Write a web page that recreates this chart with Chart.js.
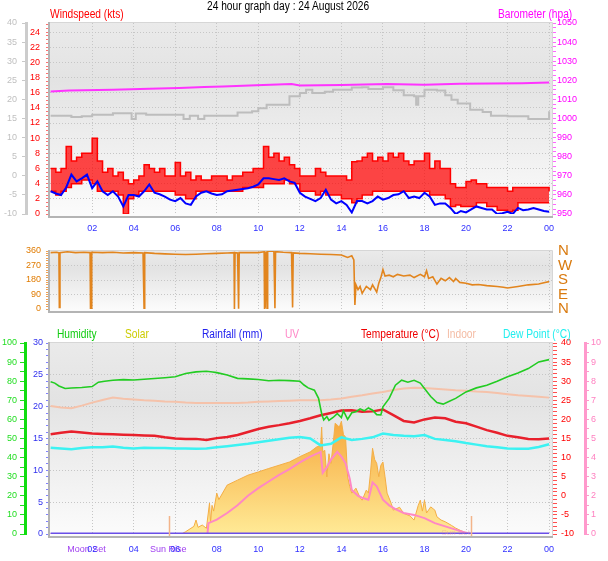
<!DOCTYPE html>
<html>
<head>
<meta charset="utf-8" />
<title>24 hour graph day : 24 August 2026</title>
<script src="https://cdn.jsdelivr.net/npm/chart.js@4.4.0/dist/chart.umd.min.js"></script>
<style>
  body { margin: 0; background: #fff; }
  #wrap { position: relative; width: 608px; height: 561px; overflow: hidden; }
  canvas { position: absolute; left: 0; }
  .lbl { position: absolute; font-size: 12px; line-height: 12px; white-space: nowrap;
         font-family: "Liberation Sans", Arial, sans-serif;
         transform: scaleX(0.85); transform-origin: 0 0; }
</style>
</head>
<body>
<div id="wrap">
  <canvas id="top" width="608" height="236" style="top:0"></canvas>
  <canvas id="mid" width="608" height="88" style="top:236px"></canvas>
  <canvas id="bot" width="608" height="237" style="top:324px"></canvas>

  <!--titles-->
  <div class="lbl" style="left:207px;top:0;color:#000">24 hour graph day : 24 August 2026</div>
  <div class="lbl" style="left:50px;top:8px;color:#ff0000">Windspeed (kts)</div>
  <div class="lbl" style="left:498px;top:8px;color:#ff00ff">Barometer (hpa)</div>

  <!--bottom panel legend-->
  <div class="lbl" style="left:57px;top:328px;color:#11cc11">Humidity</div>
  <div class="lbl" style="left:125px;top:328px;color:#cccc00">Solar</div>
  <div class="lbl" style="left:202px;top:328px;color:#2222ee">Rainfall (mm)</div>
  <div class="lbl" style="left:285px;top:328px;color:#ff88c8">UV</div>
  <div class="lbl" style="left:361px;top:328px;color:#ee0000">Temperature (°C)</div>
  <div class="lbl" style="left:447px;top:328px;color:#f4bca4">Indoor</div>
  <div class="lbl" style="left:503px;top:328px;color:#22eeee">Dew Point (°C)</div>
</div>

<script>
// ---- data (hours of the day) ----
const hourTickLabels = ["02", "04", "06", "08", "10", "12", "14", "16", "18", "20", "22", "00"];
const compassLabels = ["N", "E", "S", "W", "N"];
const eventTimes = [1.73, 5.66];
const eventLabels = ["Moon Set", "Sun Rise"];
const sunTimes = [5.72, 20.24];

// wind is sampled every 15 minutes
const windTimes = Array.from({ length: 97 }, (_, i) => i / 4);
const gustHi = [6, 5.5, 6, 8.9, 7, 7.5, 8, 8, 10, 7, 5.5, 6, 5, 5.5, 4.5, 4,
  4.5, 5, 6.5, 6, 5.5, 6, 5, 5, 6.8, 5, 5.5, 4.5, 5, 4.5, 4.5, 5,
  5, 5, 4.5, 5, 5, 5.5, 5.5, 6, 6, 8.9, 7.5, 8, 7, 7.5, 6.5, 6,
  5, 5, 5, 6, 5.5, 5, 5, 5, 5, 4.5, 6.9, 7, 7.5, 8, 7, 7.5,
  7, 8, 7.5, 8, 7, 6.5, 7, 7, 8, 6, 7, 6, 6, 4, 3.5, 3.5,
  4.3, 4.5, 4, 4, 3.5, 3.5, 3.5, 3.5, 3, 3.5, 3.5, 3.5, 3.5, 3.5, 3.5, 3.5, 3];
const gustLo = [3, 2.5, 3, 3.5, 4, 4, 4.5, 4.5, 4, 3, 3, 3, 3, 2.5, 0, 2,
  2.5, 3, 3, 3, 3, 3, 3, 3, 2.5, 2.5, 2, 2, 3, 3, 3, 3,
  3, 3, 3, 3, 3, 3.5, 3.5, 3.5, 3.5, 4, 4, 4, 4, 4.5, 4, 4,
  3, 3, 3, 2.5, 3, 2.5, 2.5, 2.5, 2, 2, 1.5, 2, 2.5, 2.5, 3, 3,
  3, 3, 3, 3, 3, 3, 3, 3, 3, 2.5, 2.5, 2.5, 2, 1, 1.2, 1,
  1, 1, 1.5, 1.5, 1, 1, 0.5, 0.5, 0.3, 0.5, 1.5, 1.5, 1.5, 1.5, 1.5, 1.5, 1.5];
const windAvg = [3.0, 2.7, 2.5, 3.5, 5.2, 4.3, 4.7, 5.2, 3.4, 4.3, 3.0, 2.5, 3.0, 2.3, 1.0, 2.5,
  2.5, 2.3, 3.0, 3.9, 2.8, 2.6, 2.3, 1.9, 1.7, 2.1, 1.4, 1.2, 2.3, 2.8, 3.0, 2.7,
  2.5, 2.6, 3.0, 3.1, 3.2, 3.3, 3.4, 3.6, 3.9, 4.7, 4.7, 4.6, 4.5, 4.7, 4.3, 4.1,
  2.8, 2.3, 2.0, 1.7, 2.1, 3.2, 1.9, 1.4, 1.7, 1.2, 0.2, 1.7, 1.7, 1.4, 1.7, 2.3,
  1.9, 2.1, 2.5, 2.6, 3.0, 2.1, 2.3, 2.1, 2.8, 2.3, 1.2, 1.4, 1.4, 0.8, 0.0, 0.4,
  0.2, 0.6, 1.0, 0.8, 0.6, 0.6, 0.0, 0.1, 0.3, 0.0, 0.8, 0.5, 0.6, 0.8, 0.6, 0.4, 0.3];

const baroTimes = [0, 0.9, 3.0, 4.75, 6.2, 7.4, 8.3, 9.9, 11.6, 12.0, 14.0, 16.2, 18.0, 19.7, 22.7, 24];
const baroVals = [1014.2, 1014.7, 1015.1, 1015.6, 1016.0, 1016.5, 1016.8, 1017.4, 1018.0, 1017.3,
  1017.5, 1018.0, 1017.7, 1018.2, 1018.5, 1018.8];

const greyTimes = [0, 1.0, 1.5, 2.0, 3.0, 3.9, 4.1, 4.6, 6.4, 6.7, 7.1, 7.4, 9.0, 9.7, 10.0, 10.4,
  11.5, 12.0, 12.3, 12.6, 13.2, 13.6, 14.5, 15.0, 15.3, 16.0, 16.5, 17.0, 17.5, 17.6, 17.7, 18.0,
  18.6, 19.0, 19.3, 19.6, 20.2, 20.8, 21.2, 22.0, 23.0, 23.7, 24.0];
const greyVals = [15.7, 15.4, 15.6, 16.0, 16.4, 14.9, 16.3, 16.0, 14.9, 15.7, 14.9, 15.7, 16.6, 16.9, 17.7, 18.6,
  20.8, 21.7, 22.5, 21.7, 22.0, 22.5, 23.1, 23.2, 22.7, 23.2, 22.4, 21.1, 20.8, 18.6, 20.8, 22.5,
  22.3, 21.1, 19.9, 18.9, 17.3, 16.7, 15.7, 15.6, 14.9, 14.9, 16.9];

const dirTimes = [0, 0.3, 0.4, 0.42, 0.45, 0.8, 1.2, 1.6, 1.9, 1.92, 1.95, 1.98, 2.5, 3.0, 3.5, 4.0,
  4.45, 4.5, 4.53, 5.0, 5.5, 6.0, 6.5, 7.0, 7.5, 8.0, 8.5, 8.83, 8.85, 8.88, 9.0, 9.05,
  9.08, 9.5, 10.0, 10.28, 10.3, 10.33, 10.38, 10.42, 10.45, 10.75, 10.8, 10.83, 11.2, 11.6, 11.65, 11.68,
  12.0, 12.5, 13.0, 13.5, 14.0, 14.3, 14.5, 14.6, 14.65, 14.7, 14.8, 14.9, 15.0, 15.2, 15.4, 15.5,
  15.7, 15.8, 15.9, 16.0, 16.1, 16.3, 16.5, 16.7, 17.0, 17.3, 17.5, 17.8, 18.0, 18.1, 18.2, 18.4,
  18.6, 18.8, 19.0, 19.2, 19.4, 19.5, 19.7, 20.0, 20.3, 20.6, 21.0, 21.5, 21.8, 22.0, 22.5, 23.0,
  23.5, 23.8, 24.0];
const dirVals = [350, 352, 348, 10, 350, 355, 350, 352, 350, 0, 0, 352, 350, 352, 348, 350,
  348, 0, 350, 345, 342, 340, 338, 340, 343, 345, 348, 350, 0, 350, 348, 2,
  350, 350, 350, 355, 0, 10, 358, 0, 360, 358, 5, 356, 352, 350, 10, 348,
  345, 343, 340, 338, 335, 320, 330, 305, 25, 150, 120, 140, 97, 140, 120, 150,
  105, 160, 195, 245, 205, 210, 200, 215, 205, 210, 195, 215, 200, 237, 190, 200,
  155, 190, 175, 195, 170, 190, 165, 160, 150, 152, 145, 140, 135, 130, 140, 150,
  155, 165, 170];

// bottom panel, half-hourly readings
const halfHours = Array.from({ length: 49 }, (_, i) => i / 2);
const tempVals = [16.1, 16.5, 16.8, 16.6, 16.3, 16.2, 16.1, 16.0, 15.9, 15.8, 15.7, 15.3, 15.0, 14.9, 14.9, 14.6,
  15.1, 15.4, 15.9, 16.7, 17.5, 18.1, 18.5, 19.0, 19.6, 20.3, 21.1, 21.7, 22.3, 22.4, 22.0, 22.1,
  22.6, 21.1, 19.6, 19.2, 20.0, 20.5, 20.3, 19.4, 19.0, 18.1, 17.2, 16.5, 15.7, 15.3, 14.9, 14.8, 15.0];
const dewVals = [12.6, 12.4, 12.2, 12.5, 12.7, 12.7, 12.9, 12.6, 12.4, 12.6, 12.5, 12.5, 12.4, 12.4, 12.3, 12.4,
  12.7, 13.0, 13.3, 13.6, 14.0, 14.4, 14.8, 15.2, 15.4, 15.0, 13.2, 13.6, 15.3, 14.6, 14.9, 15.3,
  16.3, 15.9, 15.7, 15.6, 15.9, 14.9, 14.6, 14.3, 13.8, 13.4, 13.0, 12.7, 12.4, 12.3, 12.3, 12.8, 13.5];
const indoorVals = [23.5, 23.1, 22.9, 23.6, 24.4, 25.1, 25.7, 25.4, 25.2, 25.0, 24.9, 24.7, 24.6, 24.4, 24.3, 24.3,
  24.3, 24.3, 24.3, 24.4, 24.6, 24.7, 24.8, 24.9, 25.0, 25.0, 25.0, 25.2, 25.5, 25.9, 26.3, 26.8,
  27.2, 27.7, 28.1, 28.3, 28.2, 28.0, 27.8, 27.6, 27.5, 27.3, 27.2, 26.9, 26.6, 26.3, 26.1, 25.9, 25.7];

const humTimes = [0, 0.2, 0.4, 0.7, 1.0, 1.5, 2.0, 2.3, 2.6, 3.0, 3.5, 4.0, 4.5, 5.0, 5.5, 6.0,
  6.5, 7.0, 7.5, 7.8, 8.0, 8.5, 9.0, 9.5, 10.0, 10.5, 11.0, 11.5, 12.0, 12.2, 12.4, 12.7,
  12.9, 13.05, 13.15, 13.3, 13.4, 13.6, 13.8, 14.0, 14.1, 14.3, 14.5, 14.7, 14.9, 15.1, 15.3, 15.5,
  15.7, 15.9, 16.0, 16.3, 16.6, 16.9, 17.2, 17.5, 17.8, 18.0, 18.3, 18.6, 18.9, 19.2, 19.5, 20.0,
  20.5, 21.0, 21.5, 22.0, 22.5, 23.0, 23.5, 24.0];
const humVals = [79.7, 79, 77.5, 76.2, 76.4, 76.7, 77.2, 79.5, 80, 80.5, 80.8, 80.6, 81, 81.4, 81.8, 82.3,
  84, 84.9, 85.2, 84.8, 84.5, 83.2, 81.5, 81.2, 80.9, 80.2, 80.5, 80.3, 80.0, 78, 76.5, 75.3,
  71, 63, 59.7, 61.5, 59.5, 61, 63, 61, 64.5, 60, 63.5, 64, 65.5, 64.5, 66, 64.8,
  62.5, 62.3, 66.6, 71, 77.9, 80.5, 79.5, 80.5, 79, 76.2, 72, 68.8, 68, 69.5, 71, 74.4,
  76.5, 77.9, 80, 82.3, 84.3, 86.6, 90.1, 91.3];

const solarTimes = [0, 6.3, 6.5, 6.9, 7.0, 7.1, 7.3, 7.5, 7.65, 7.7, 7.77, 7.85, 8.0, 8.1, 8.5, 9.0,
  9.5, 10.0, 10.5, 11.0, 11.5, 12.0, 12.5, 12.8, 13.0, 13.05, 13.1, 13.2, 13.3, 13.4, 13.5, 13.6,
  13.7, 13.9, 14.0, 14.1, 14.2, 14.3, 14.4, 14.5, 14.7, 14.9, 15.0, 15.2, 15.3, 15.4, 15.5, 15.6,
  15.7, 15.8, 15.9, 16.0, 16.1, 16.2, 16.4, 16.5, 16.8, 17.0, 17.3, 17.5, 17.7, 17.8, 17.9, 18.0,
  18.1, 18.3, 18.5, 18.6, 18.8, 19.0, 19.3, 19.5, 19.8, 20.0, 20.2, 24];
const solarVals = [0, 0, 12, 40, 73, 35, 47, 30, 162, 60, 150, 120, 214, 180, 256, 282,
  308, 325, 343, 360, 377, 405, 430, 455, 464, 560, 430, 438, 299, 420, 370, 470,
  580, 560, 590, 520, 508, 299, 250, 214, 240, 190, 177, 230, 214, 320, 449, 390,
  370, 300, 360, 377, 300, 214, 160, 125, 140, 108, 95, 73, 150, 177, 120, 177,
  110, 142, 125, 90, 73, 64, 45, 31, 15, 5, 0, 0];

const uvTimes = [0, 7.55, 7.6, 8.0, 8.5, 9.0, 9.5, 10.0, 10.5, 11.0, 11.5, 12.0, 12.5, 13.0, 13.1, 13.3,
  13.5, 13.8, 14.0, 14.2, 14.4, 14.5, 14.8, 15.0, 15.3, 15.5, 15.7, 16.0, 16.3, 16.6, 17.0, 17.5,
  18.0, 18.5, 19.0, 19.5, 20.0, 20.3, 24];
const uvVals = [0, 0, 0.57, 0.75, 1.1, 1.5, 2.0, 2.4, 2.75, 3.1, 3.4, 3.75, 4.05, 4.3, 3.2, 3.5,
  3.9, 4.3, 4.05, 3.7, 2.9, 2.3, 2.0, 1.9, 1.8, 2.7, 2.5, 1.8, 1.5, 1.3, 1.1, 1.0,
  0.83, 0.57, 0.4, 0.23, 0.05, 0, 0];

const rainTimes = [0, 24];
const rainVals = [0, 0];

// ---- helpers ----
Chart.defaults.font.family = "'Liberation Sans', Arial, sans-serif";
Chart.defaults.font.size = 9;

function pairs(times, vals) {
  return times.map((t, i) => ({ x: t, y: vals[i] }));
}
// show a label only on multiples of n
function every(n) {
  return (v) => (Math.abs(v / n - Math.round(v / n)) < 1e-6 ? v : "");
}
function hourLabel(v) {
  const k = eventTimes.indexOf(v);
  if (k >= 0) return eventLabels[k];
  if (v <= 0) return "";
  return hourTickLabels[Math.round(v / 2) - 1];
}
const gridCol = "#c6c6c6";
const clear = "rgba(0,0,0,0)";

function hourAxis(height, pad, showLabels) {
  return {
    type: "linear", min: -0.03, max: 24.14, position: "bottom",
    afterFit: (s) => { s.height = height; },
    grid: { drawTicks: false, color: (c) => (c.tick && c.tick.value > 0 && eventTimes.indexOf(c.tick.value) < 0 ? gridCol : clear) },
    border: { display: false, dash: [1, 2] },
    ticks: { display: showLabels, stepSize: 2, includeBounds: false, autoSkip: false, maxRotation: 0, minRotation: 0,
      padding: pad, color: "#3030ff", callback: hourLabel }
  };
}
function valueAxis(o) {
  return {
    position: o.pos, weight: o.weight || 0, min: o.min, max: o.max,
    afterFit: (s) => { s.width = o.width; },
    grid: {
      drawOnChartArea: !!o.gridEvery,
      color: (c) => (o.gridEvery && c.tick && c.tick.value > o.min && c.tick.value < o.max &&
        every(o.gridEvery)(c.tick.value) !== "" ? gridCol : clear),
      tickLength: o.tickLen || 4, tickColor: o.tickColor
    },
    border: { display: !!o.border, color: o.border, width: 3, dash: [1, 2] },
    ticks: { stepSize: o.step, includeBounds: false, autoSkip: false, padding: o.pad, color: o.color,
      callback: every(o.label) }
  };
}

const panelBack = {
  id: "panelBack",
  beforeDraw(chart) {
    const { ctx, chartArea: a } = chart;
    const g = ctx.createLinearGradient(0, a.top, 0, a.bottom);
    g.addColorStop(0, "#eaeaea");
    g.addColorStop(0.3, "#e3e3e3");
    g.addColorStop(1, "#fbfbfb");
    ctx.save();
    ctx.fillStyle = g;
    ctx.fillRect(a.left, a.top - 1, a.right - a.left, a.bottom - a.top + 4);
    ctx.restore();
  },
  afterDraw(chart) {
    const { ctx, chartArea: a } = chart;
    ctx.save();
    ctx.strokeStyle = "#d6d6d6";
    ctx.lineWidth = 1;
    ctx.beginPath();
    ctx.moveTo(a.left, a.top - 0.5);
    ctx.lineTo(a.right + 0.5, a.top - 0.5);
    ctx.lineTo(a.right + 0.5, a.bottom + 3);
    ctx.stroke();
    ctx.strokeStyle = "#b4b4b4";
    ctx.lineWidth = 2;
    ctx.beginPath();
    ctx.moveTo(a.left - 1, a.top - 1);
    ctx.lineTo(a.left - 1, a.bottom + 3);
    ctx.lineTo(a.right + 1, a.bottom + 3);
    ctx.stroke();
    ctx.restore();
  }
};

const sunMarks = {
  id: "sunMarks",
  afterDatasetsDraw(chart) {
    const { ctx, chartArea: a } = chart;
    const x = chart.scales.x;
    ctx.save();
    ctx.strokeStyle = "#f3b48a";
    ctx.lineWidth = 1.5;
    sunTimes.forEach((t) => {
      const px = Math.round(x.getPixelForValue(t)) + 0.5;
      ctx.beginPath();
      ctx.moveTo(px, a.bottom + 2);
      ctx.lineTo(px, a.bottom - 18);
      ctx.stroke();
    });
    ctx.fillStyle = "rgba(236,150,150,0.45)";
    ctx.font = "8px 'Liberation Sans'";
    ctx.textAlign = "right";
    ctx.fillText("Sun Set", x.getPixelForValue(sunTimes[1]) - 1, a.bottom + 1);
    ctx.restore();
  }
};

const common = {
  responsive: false,
  animation: false,
  events: [],
  elements: { point: { radius: 0 }, line: { tension: 0 } },
  plugins: { legend: { display: false }, tooltip: { enabled: false } }
};

// ---- top panel: wind and barometer ----
new Chart(document.getElementById("top"), {
  type: "line",
  data: {
    datasets: [
      { label: "Average wind", data: pairs(windTimes, windAvg), yAxisID: "wind", borderColor: "#0000ff", borderWidth: 2 },
      { label: "Gust", data: pairs(windTimes, gustHi), yAxisID: "wind", borderColor: "#ff0000", borderWidth: 1.5,
        stepped: true, fill: "+1", backgroundColor: "rgba(255,0,0,0.72)" },
      { label: "Gust low", data: pairs(windTimes, gustLo), yAxisID: "wind", borderColor: "#ff0000", borderWidth: 1.5, stepped: true },
      { label: "Temperature", data: pairs(greyTimes, greyVals), yAxisID: "grey", borderColor: "#bdbdbd", borderWidth: 2, stepped: true },
      { label: "Barometer", data: pairs(baroTimes, baroVals), yAxisID: "baro", borderColor: "#ff33ff", borderWidth: 2 }
    ]
  },
  options: {
    ...common,
    layout: { padding: { top: 23 } },
    scales: {
      x: hourAxis(22, 9, true),
      grey: valueAxis({ pos: "left", weight: 1, min: -10, max: 40, width: 26, step: 5, label: 5, pad: 5,
        color: "#c0c0c0", tickColor: "#c8c8c8", border: "#cccccc" }),
      wind: valueAxis({ pos: "left", min: 0, max: 25.19, width: 24, step: 0.5, label: 2, pad: 6,
        color: "#ff0000", tickColor: "#ff7070", gridEvery: 2 }),
      baro: valueAxis({ pos: "right", min: 950, max: 1050, width: 56, step: 2.5, label: 10, pad: 1,
        color: "#ff00ff", tickColor: "#ff66ff" })
    }
  },
  plugins: [panelBack]
});

// ---- middle panel: wind direction ----
new Chart(document.getElementById("mid"), {
  type: "line",
  data: {
    datasets: [
      { label: "Direction", data: pairs(dirTimes, dirVals), yAxisID: "dir", borderColor: "#e2851e", borderWidth: 1.6 }
    ]
  },
  options: {
    ...common,
    layout: { padding: { top: 8 } },
    scales: {
      x: hourAxis(11, 0, false),
      dir: valueAxis({ pos: "left", min: 0, max: 360, width: 50, step: 15, label: 90, pad: 5,
        color: "#e07b00", tickColor: "#f0a050", gridEvery: 90 }),
      compass: {
        position: "right", min: 0, max: 360,
        afterFit: (s) => { s.width = 56; },
        grid: { display: false, drawTicks: false }, border: { display: false },
        ticks: { stepSize: 90, autoSkip: false, padding: 6, color: "#d97a0f", font: { size: 15 },
          callback: (v) => compassLabels[Math.round(v / 90)] }
      }
    }
  },
  plugins: [panelBack]
});

// ---- bottom panel: temperature, humidity, solar, UV, rain ----
const botX = hourAxis(27, 10, true);
botX.afterBuildTicks = (s) => {
  s.ticks = s.ticks.concat(eventTimes.map((t) => ({ value: t }))).sort((a, b) => a.value - b.value);
};
botX.ticks.color = (c) => (c.tick && eventTimes.indexOf(c.tick.value) >= 0 ? "#a040f0" : "#3030ff");

new Chart(document.getElementById("bot"), {
  type: "line",
  data: {
    datasets: [
      { label: "Rainfall", data: pairs(rainTimes, rainVals), yAxisID: "rain", borderColor: "#6a4fe8", borderWidth: 3 },
      { label: "Humidity", data: pairs(humTimes, humVals), yAxisID: "hum", borderColor: "#22cc22", borderWidth: 1.6 },
      { label: "Temperature", data: pairs(halfHours, tempVals), yAxisID: "temp", borderColor: "#e8202c", borderWidth: 2.5 },
      { label: "Dew Point", data: pairs(halfHours, dewVals), yAxisID: "temp", borderColor: "#3cf2f2", borderWidth: 2.5 },
      { label: "Indoor", data: pairs(halfHours, indoorVals), yAxisID: "temp", borderColor: "#f5c2aa", borderWidth: 2 },
      { label: "UV", data: pairs(uvTimes, uvVals), yAxisID: "uv", borderColor: "#ff88c4", borderWidth: 2 },
      { label: "Solar", data: pairs(solarTimes, solarVals), yAxisID: "solar", borderColor: "#f4ae45", borderWidth: 1,
        fill: "origin",
        backgroundColor: (c) => {
          const a = c.chart.chartArea;
          if (!a) return "#f8c060";
          const g = c.chart.ctx.createLinearGradient(0, a.bottom, 0, a.top + a.height * 0.4);
          g.addColorStop(0, "#ffea96");
          g.addColorStop(1, "#f6a83c");
          return g;
        } }
    ]
  },
  options: {
    ...common,
    layout: { padding: { top: 19 } },
    scales: {
      x: botX,
      hum: valueAxis({ pos: "left", weight: 1, min: 0, max: 100, width: 25, step: 5, label: 10, pad: 3, tickLen: 5,
        color: "#22dd22", tickColor: "#22dd22", border: "#11dd11" }),
      rain: valueAxis({ pos: "left", min: 0, max: 30, width: 25, step: 1, label: 5, pad: 3,
        color: "#3030ee", tickColor: "#8080ff", gridEvery: 5 }),
      temp: valueAxis({ pos: "right", min: -10, max: 40, width: 33, step: 1, label: 5, pad: 4, tickLen: 5,
        color: "#ff0000", tickColor: "#ff5050" }),
      uv: valueAxis({ pos: "right", weight: 1, min: 0, max: 10, width: 23, step: 0.5, label: 1, pad: 2,
        color: "#ff80c0", tickColor: "#ff99cc", border: "#ff99cc" }),
      solar: { display: false, min: 0, max: 1000 }
    }
  },
  plugins: [panelBack, sunMarks]
});
</script>
</body>
</html>
